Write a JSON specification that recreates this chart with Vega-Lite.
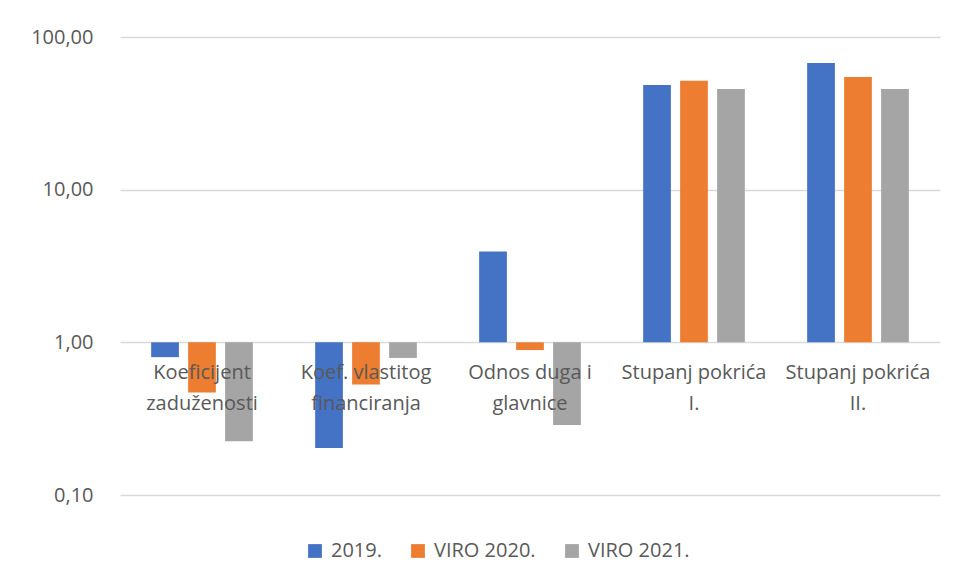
{
  "$schema": "https://vega.github.io/schema/vega-lite/v6.json",
  "width": 820,
  "height": 458,
  "autosize": {"type": "none"},
  "padding": {"left": 120, "top": 37, "right": 20, "bottom": 86},
  "background": "white",
  "config": {
    "view": {"stroke": null},
    "font": "Open Sans"
  },
  "datasets": {
    "bars": [
      {"cat": "Koeficijent zaduženosti", "series": "2019.", "value": 0.80},
      {"cat": "Koeficijent zaduženosti", "series": "VIRO 2020.", "value": 0.47},
      {"cat": "Koeficijent zaduženosti", "series": "VIRO 2021.", "value": 0.225},
      {"cat": "Koef. vlastitog financiranja", "series": "2019.", "value": 0.203},
      {"cat": "Koef. vlastitog financiranja", "series": "VIRO 2020.", "value": 0.53},
      {"cat": "Koef. vlastitog financiranja", "series": "VIRO 2021.", "value": 0.79},
      {"cat": "Odnos duga i glavnice", "series": "2019.", "value": 3.93},
      {"cat": "Odnos duga i glavnice", "series": "VIRO 2020.", "value": 0.89},
      {"cat": "Odnos duga i glavnice", "series": "VIRO 2021.", "value": 0.287},
      {"cat": "Stupanj pokrića I.", "series": "2019.", "value": 48.5},
      {"cat": "Stupanj pokrića I.", "series": "VIRO 2020.", "value": 51.6},
      {"cat": "Stupanj pokrića I.", "series": "VIRO 2021.", "value": 45.7},
      {"cat": "Stupanj pokrića II.", "series": "2019.", "value": 67.6},
      {"cat": "Stupanj pokrića II.", "series": "VIRO 2020.", "value": 54.8},
      {"cat": "Stupanj pokrića II.", "series": "VIRO 2021.", "value": 45.7}
    ],
    "labels": [
      {"cat": "Koeficijent zaduženosti", "label": "Koeficijent\nzaduženosti"},
      {"cat": "Koef. vlastitog financiranja", "label": "Koef. vlastitog\nfinanciranja"},
      {"cat": "Odnos duga i glavnice", "label": "Odnos duga i\nglavnice"},
      {"cat": "Stupanj pokrića I.", "label": "Stupanj pokrića\nI."},
      {"cat": "Stupanj pokrića II.", "label": "Stupanj pokrića\nII."}
    ]
  },
  "layer": [
    {
      "data": {"name": "bars"},
      "mark": {"type": "bar"},
      "encoding": {
        "x": {
          "field": "cat",
          "type": "nominal",
          "sort": ["Koeficijent zaduženosti", "Koef. vlastitog financiranja", "Odnos duga i glavnice", "Stupanj pokrića I.", "Stupanj pokrića II."],
          "scale": {"paddingInner": 0.38, "paddingOuter": 0.19},
          "axis": null
        },
        "xOffset": {
          "field": "series",
          "type": "nominal",
          "sort": ["2019.", "VIRO 2020.", "VIRO 2021."],
          "scale": {"paddingInner": 0.25, "paddingOuter": 0}
        },
        "y": {
          "field": "value",
          "type": "quantitative",
          "scale": {"type": "log", "domain": [0.1, 100], "nice": false},
          "axis": {
            "values": [0.1, 1, 10, 100],
            "labelExpr": "replace(format(datum.value, '.2f'), '.', ',')",
            "domain": false,
            "ticks": false,
            "tickSize": 0,
            "labelPadding": 27,
            "labelFontSize": 20,
            "labelColor": "#595959",
            "labelFont": "Open Sans",
            "gridColor": "#D9D9D9",
            "gridWidth": 1.5,
            "title": null
          }
        },
        "y2": {"datum": 1},
        "color": {
          "field": "series",
          "type": "nominal",
          "sort": ["2019.", "VIRO 2020.", "VIRO 2021."],
          "scale": {"range": ["#4472C4", "#ED7D31", "#A5A5A5"]},
          "legend": {
            "title": null,
            "orient": "none",
            "legendX": 185,
            "legendY": 504,
            "direction": "horizontal",
            "symbolType": "square",
            "symbolSize": 190,
            "symbolStrokeWidth": 0,
            "labelFontSize": 20,
            "labelColor": "#595959",
            "labelFont": "Open Sans",
            "labelOffset": 6,
            "columnPadding": 26,
            "padding": 0
          }
        }
      }
    },
    {
      "data": {"name": "labels"},
      "mark": {
        "type": "text",
        "baseline": "top",
        "align": "center",
        "dy": 21,
        "fontSize": 20,
        "lineHeight": 31,
        "lineBreak": "\n",
        "color": "#595959",
        "font": "Open Sans"
      },
      "encoding": {
        "x": {
          "field": "cat",
          "type": "nominal",
          "sort": ["Koeficijent zaduženosti", "Koef. vlastitog financiranja", "Odnos duga i glavnice", "Stupanj pokrića I.", "Stupanj pokrića II."]
        },
        "y": {"datum": 1},
        "text": {"field": "label"}
      }
    }
  ]
}
